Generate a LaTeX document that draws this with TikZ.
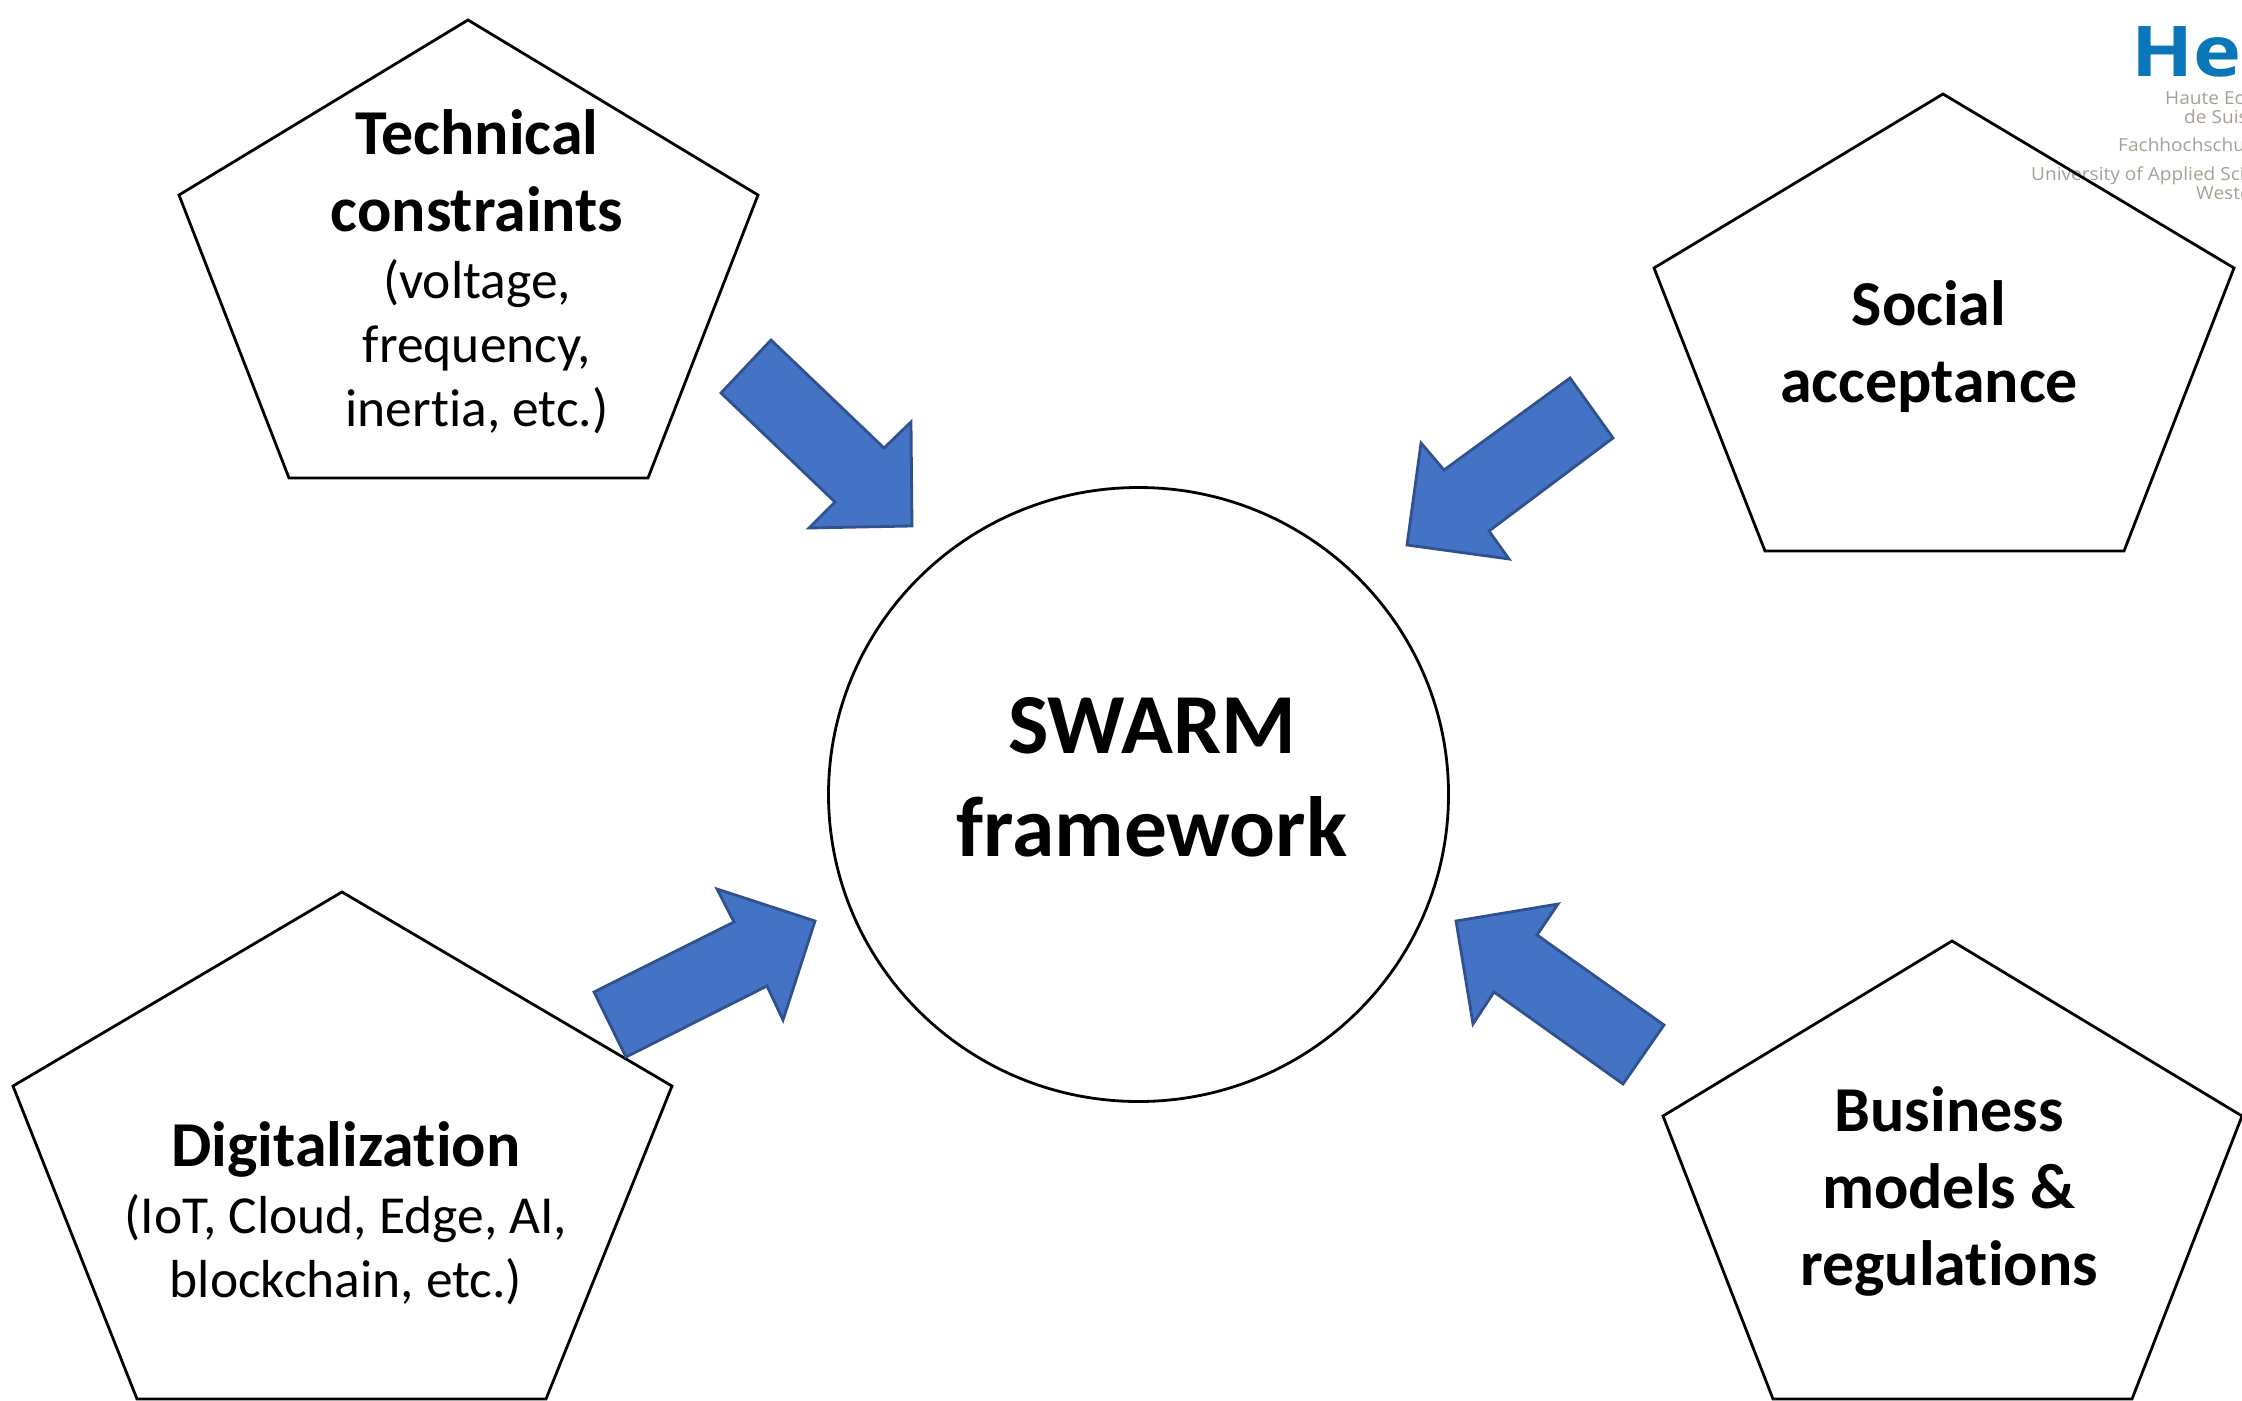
\documentclass[tikz,border=0pt]{standalone}
\usepackage{fontspec}
\setmainfont[Ligatures=NoCommon]{Carlito}
\newfontfamily\logofont[FakeStretch=1.06]{Open Sans}
\newfontfamily\logobig[FakeStretch=1.16]{Open Sans}
\definecolor{arrowfill}{HTML}{4472C4}
\definecolor{arrowedge}{HTML}{2F528F}
\definecolor{logoblue}{HTML}{0A78B8}
\definecolor{logogray}{HTML}{A89F94}
\newcommand{\bigb}{\fontsize{64}{77}\selectfont\bfseries}
\newcommand{\smallr}{\fontsize{53.5}{64}\selectfont}
\tikzset{
  shapeline/.style={draw=black,line width=2.8pt,line join=miter},
  blockarrow/.style={draw=arrowedge,fill=arrowfill,line width=2.8pt,line join=miter},
  label/.style={align=center,inner sep=0pt,text=black},
  logotext/.style={anchor=base west,inner sep=0pt,text=logogray,font=\logofont\fontsize{18}{18}\selectfont},
}
\begin{document}
\begin{tikzpicture}[x=1pt,y=-1pt]
\useasboundingbox (0,0) rectangle (2242,1400);
\clip (0,0) rectangle (2242,1400);
% logo
\node[anchor=base west,inner sep=0pt,text=logoblue,font=\logobig\bfseries\fontsize{70}{70}\selectfont] (logoa) at (2131,76) {He};
\node[logotext] (logob) at (2165,104) {Haute Ec};
\node[logotext] (logoc) at (2184,123) {de Suis};
\node[logotext] (logod) at (2118,151) {Fachhochschu};
\node[logotext] (logoe) at (2031,180) {University of Applied Sci};
\node[logotext] (logof) at (2196,199) {Weste};
% pentagons
\draw[shapeline] (468,20) -- (758,195) -- (648,478) -- (289,478) -- (179,195) -- cycle;
\draw[shapeline] (1943,94) -- (2234,268) -- (2124,551) -- (1765,551) -- (1654,268) -- cycle;
\draw[shapeline] (342,892) -- (672,1086) -- (546,1399) -- (137,1399) -- (13,1086) -- cycle;
\draw[shapeline] (1952,941) -- (2242,1116) -- (2132,1399) -- (1773,1399) -- (1663,1116) -- cycle;
% centre
\draw[shapeline] (1138.5,794.5) ellipse [x radius=310,y radius=307];
% arrows
\draw[blockarrow] (771,340) -- (721,393) -- (835,502) -- (809,528) -- (912,526) -- (911,422) -- (884,448) -- cycle;
\draw[blockarrow] (1570,378) -- (1613,438) -- (1489,531) -- (1509,559) -- (1407,545) -- (1421,443) -- (1444,470) -- cycle;
\draw[blockarrow] (594,992) -- (626,1057) -- (767,986) -- (783,1020) -- (815,921) -- (717,889) -- (734,922) -- cycle;
\draw[blockarrow] (1664,1025) -- (1623,1084) -- (1494,992) -- (1473,1024) -- (1456,921) -- (1558,904) -- (1537,935) -- cycle;
% labels
\node[label,anchor=base] (tech1) at (477,154) {\bigb Technical};
\node[label,anchor=base] (tech2) at (477,231) {\bigb constraints};
\node[label,anchor=base] (tech3) at (477,298) {\smallr (voltage,};
\node[label,anchor=base] (tech4) at (477,362) {\smallr frequency,};
\node[label,anchor=base] (tech5) at (477,426) {\smallr inertia, etc.)};
\node[label,anchor=base] (soc1) at (1929,325) {\bigb Social};
\node[label,anchor=base] (soc2) at (1929,402) {\bigb acceptance};
\node[label,anchor=base] (dig1) at (346,1166) {\bigb Digitalization};
\node[label,anchor=base] (dig2) at (346,1233) {\smallr (IoT, Cloud, Edge, AI,};
\node[label,anchor=base] (dig3) at (346,1297) {\smallr blockchain, etc.)};
\node[label,anchor=base] (bus1) at (1949,1131) {\bigb Business};
\node[label,anchor=base] (bus2) at (1949,1208) {\bigb models \&};
\node[label,anchor=base] (bus3) at (1949,1285) {\bigb regulations};
\node[label,anchor=base] (sw1) at (1152,753) {\fontsize{85.5}{103}\selectfont\bfseries SWARM};
\node[label,anchor=base] (sw2) at (1152,856) {\fontsize{85.5}{103}\selectfont\bfseries framework};
\end{tikzpicture}
\end{document}
